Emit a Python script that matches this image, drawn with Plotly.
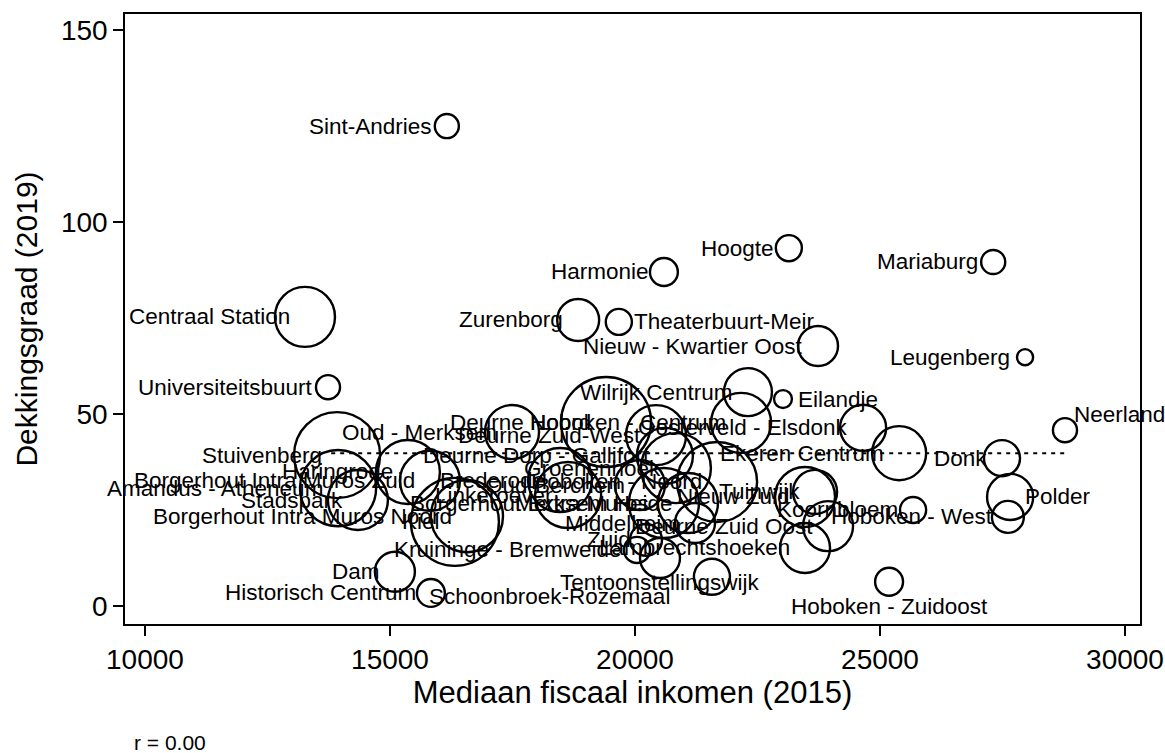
import plotly.graph_objects as go

# ---- data ----
wijken = [
    "Sint-Andries", "Hoogte", "Mariaburg", "Harmonie", "Centraal Station",
    "Zurenborg", "Theaterbuurt-Meir", "Nieuw - Kwartier Oost", "Leugenberg",
    "Universiteitsbuurt", "Wilrijk Centrum", "Eilandje", "Neerland",
    "Deurne Noord", "Hoboken - Centrum", "Oosterveld - Elsdonk", "Ekeren Centrum",
    "Donk", "Oud - Merksem", "Deurne Zuid-West", "Deurne Dorp - Gallifort",
    "Groenenhoek", "Hoboken - Noord", "Brederode", "Oud-Berchem", "Linkeroever",
    "Borgerhout Extra Muros", "Merksem Heide", "Middelheim", "Deurne Zuid Oost",
    "Zuid", "Kruininge - Bremweide", "Lambrechtshoeken", "Tentoonstellingswijk",
    "Schoonbroek-Rozemaal", "Historisch Centrum", "Dam", "Hoboken - Zuidoost",
    "Koornbloem", "Hoboken - West", "Polder", "Stuivenberg", "Haringrode",
    "Borgerhout Intra Muros Zuid", "Amandus - Atheneum", "Stadspark",
    "Borgerhout Intra Muros Noord", "Kiel", "Nieuw Zuid", "Tuinwijk",
]
inkomen_2015 = [
    16160, 23140, 27310, 20590, 13265,
    18840, 19670, 23735, 27960,
    13735, 22305, 23020, 28775,
    19410, 22165, 24655, 25390,
    27490, 17490, 20430, 20610,
    20835, 21675, 18470, 20100, 18635,
    20590, 21080, 21225, 23940,
    20225, 20040, 23470, 20510,
    21570, 15835, 15100, 25185,
    25675, 27610, 27655, 13920, 15365,
    15815, 13940, 14345,
    16570, 16325, 23470, 23675,
]
dekkingsgraad_2019 = [
    125.0, 93.2, 89.6, 87.0, 75.3,
    74.5, 74.0, 67.7, 64.8,
    57.0, 55.7, 53.9, 45.8,
    47.9, 47.7, 46.4, 39.8,
    38.5, 45.3, 44.5, 39.1,
    35.9, 32.3, 32.8, 31.5, 28.9,
    26.8, 26.8, 21.6, 20.8,
    17.2, 14.6, 15.1, 12.5,
    7.6, 3.4, 8.9, 6.3,
    25.0, 23.2, 28.4, 39.3, 34.9,
    32.6, 30.7, 27.6,
    23.4, 21.9, 28.4, 29.7,
]
bevolking = [
    2900, 3400, 2900, 3900, 18000,
    8800, 3400, 8000, 1300,
    2900, 11500, 1600, 2900,
    40500, 18000, 10600, 14600,
    6500, 14600, 18000, 15700,
    24500, 32000, 20500, 12500, 21800,
    24500, 18000, 8000, 12500,
    5100, 3400, 12500, 8000,
    6500, 3900, 8000, 3900,
    3400, 5100, 10600, 37000, 20500,
    18000, 29000, 18000,
    26000, 38700, 18000, 9700,
]
# marker-label clock positions (Stata mlabvposition)
label_pos = [
    9, 9, 9, 9, 9,
    9, 3, 9, 9,
    9, 9, 3, 1,
    9, 9, 9, 9,
    9, 9, 9, 9,
    9, 9, 9, 9, 9,
    9, 9, 9, 9,
    9, 9, 9, 6,
    8, 9, 9, 6,
    9, 9, 3, 9, 9,
    9, 9, 9,
    9, 9, 9, 9,
]
fit_x = [13800, 28780]
fit_y = [39.8, 39.8]
r_text = "r = 0.00"

# ---- styling ----
FONT = "Liberation Sans, Arial, sans-serif"
POS = {
    9: dict(xanchor="right", yanchor="middle", xshift=-13, yshift=0),
    3: dict(xanchor="left", yanchor="middle", xshift=13, yshift=0),
    6: dict(xanchor="center", yanchor="middle", xshift=0, yshift=-25),
    1: dict(xanchor="left", yanchor="middle", xshift=7, yshift=16),
    8: dict(xanchor="right", yanchor="middle", xshift=-40, yshift=-20),
}

fig = go.Figure()
fig.add_trace(go.Scatter(
    x=inkomen_2015, y=dekkingsgraad_2019, mode="markers",
    marker=dict(symbol="circle-open", size=bevolking, sizemode="area",
                sizeref=10, color="black", opacity=1,
                line=dict(width=2.4, color="black")),
    hoverinfo="text", text=wijken, showlegend=False,
))
fig.add_trace(go.Scatter(
    x=fit_x, y=fit_y, mode="lines",
    line=dict(color="black", width=2, dash="4px,5px"),
    showlegend=False, hoverinfo="skip",
))

annotations = []
for name, xv, yv, p in zip(wijken, inkomen_2015, dekkingsgraad_2019, label_pos):
    a = dict(x=xv, y=yv, xref="x", yref="y", text=name, showarrow=False,
             font=dict(family=FONT, size=22.5, color="black"))
    a.update(POS[p])
    annotations.append(a)
annotations.append(dict(
    x=0.007, y=-0.195, xref="paper", yref="paper", text=r_text, showarrow=False,
    xanchor="left", yanchor="middle", font=dict(family=FONT, size=21, color="black"),
))

fig.update_layout(
    width=1165, height=753, autosize=False,
    margin=dict(l=125, r=25, t=14, b=129, autoexpand=False),
    paper_bgcolor="white", plot_bgcolor="white",
    font=dict(family=FONT, color="black"),
    annotations=annotations,
)
fig.update_xaxes(
    range=[9592, 30306], tickvals=[10000, 15000, 20000, 25000, 30000],
    ticktext=["10000", "15000", "20000", "25000", "30000"],
    ticks="outside", ticklen=10, tickwidth=1.5, tickcolor="black",
    showline=True, linecolor="black", linewidth=1.5, mirror=True,
    showgrid=False, zeroline=False, automargin=False,
    tickfont=dict(size=28, family=FONT),
    title=dict(text="Mediaan fiscaal inkomen (2015)", font=dict(size=31, family=FONT), standoff=6),
)
fig.update_yaxes(
    range=[-4.7, 154.2], tickvals=[0, 50, 100, 150],
    ticks="outside", ticklen=10, tickwidth=1.5, tickcolor="black",
    showline=True, linecolor="black", linewidth=1.5, mirror=True,
    showgrid=False, zeroline=False, automargin=False,
    tickfont=dict(size=28, family=FONT),
    title=dict(text="Dekkingsgraad (2019)", font=dict(size=30, family=FONT), standoff=14),
)

fig.write_html(
    "out.html",
    config={"displayModeBar": False, "responsive": False},
    post_script="document.body.style.margin='0';document.body.style.overflow='hidden';",
)
